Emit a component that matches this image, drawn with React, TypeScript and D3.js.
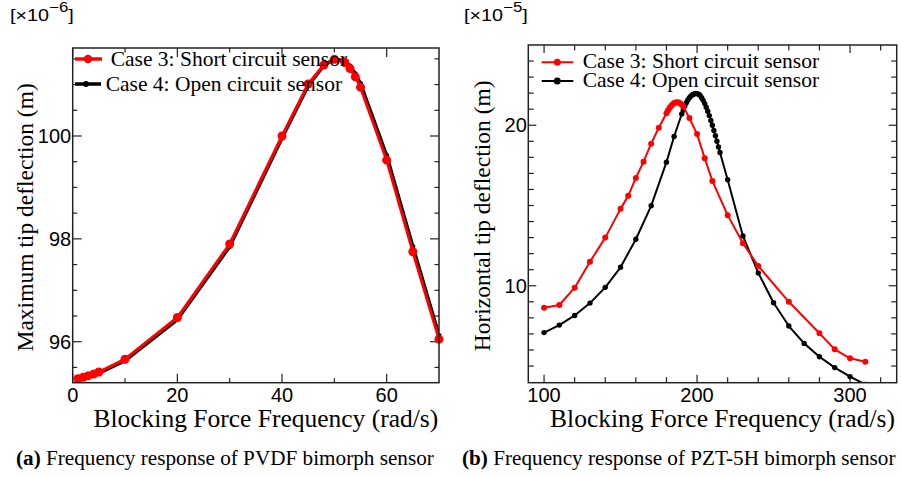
import React from "react";
import * as d3 from "d3";

// ---------- Data ----------
// Panel (a): PVDF bimorph sensor, max tip deflection (x1e-6 m)
const LEFT_FREQ = [1, 2, 3, 4, 5, 10, 20, 30, 40, 45, 48, 50, 52, 53, 54, 55, 60, 65, 70];
const LEFT_CASE3 = [95.28, 95.31, 95.34, 95.37, 95.41, 95.66, 96.47, 97.9, 100.0, 101.01, 101.38, 101.49, 101.43, 101.31, 101.15, 100.95, 99.53, 97.75, 96.05];
const LEFT_CASE4 = [95.26, 95.29, 95.32, 95.35, 95.39, 95.63, 96.43, 97.85, 99.96, 100.98, 101.37, 101.5, 101.46, 101.36, 101.21, 101.02, 99.62, 97.85, 96.12];

// Panel (b): PZT-5H bimorph sensor, horizontal tip deflection (x1e-5 m)
const RIGHT_FREQ3 = [100, 110, 120, 130, 140, 150, 155, 160, 165, 170, 175, 180, 181, 182, 183, 184, 185, 186, 187, 188, 189, 190, 191, 195, 200, 205, 210, 220, 230, 240, 260, 280, 290, 300, 310];
const RIGHT_CASE3 = [8.63, 8.8, 9.88, 11.49, 13.0, 14.79, 15.6, 16.72, 17.72, 18.85, 19.85, 20.75, 20.92, 21.07, 21.2, 21.3, 21.38, 21.42, 21.43, 21.41, 21.36, 21.28, 21.17, 20.45, 19.45, 17.95, 16.53, 14.4, 12.65, 11.23, 9.0, 7.04, 6.04, 5.48, 5.27];
const RIGHT_FREQ4 = [100, 110, 120, 130, 140, 150, 160, 170, 180, 185, 190, 191, 192, 193, 194, 195, 196, 197, 198, 199, 200, 201, 202, 203, 204, 205, 206, 207, 208, 209, 210, 211, 212, 213, 214, 215, 220, 230, 240, 250, 260, 270, 280, 290, 300, 310];
const RIGHT_CASE4 = [7.08, 7.55, 8.15, 8.92, 9.9, 11.15, 12.9, 14.98, 17.7, 19.3, 20.7, 20.95, 21.2, 21.4, 21.58, 21.72, 21.83, 21.9, 21.95, 21.98, 21.97, 21.93, 21.85, 21.72, 21.55, 21.35, 21.12, 20.87, 20.6, 20.3, 20.0, 19.68, 19.35, 19.0, 18.65, 18.3, 16.6, 13.1, 10.8, 8.94, 7.49, 6.41, 5.58, 4.9, 4.34, 3.85];

// Ticks
const LEFT_X_MAJOR = [0, 20, 40, 60];
const LEFT_X_MINOR = [10, 30, 50];
const LEFT_Y_MAJOR = [96, 98, 100];
const LEFT_Y_MINOR = [95.5, 96.5, 97, 97.5, 98.5, 99, 99.5, 100.5, 101, 101.5];
const RIGHT_X_MAJOR = [100, 200, 300];
const RIGHT_X_MINOR = [120, 140, 160, 180, 220, 240, 260, 280, 320];
const RIGHT_Y_MAJOR = [10, 20];
const RIGHT_Y_MINOR = [5, 6, 7, 8, 9, 11, 12, 13, 14, 15, 16, 17, 18, 19, 21, 22, 23, 24];

const LEGEND_LABELS = ["Case 3: Short circuit sensor", "Case 4: Open circuit sensor"];
const X_TITLE = "Blocking Force Frequency (rad/s)";
const LEFT_Y_TITLE = "Maximum tip deflection (m)";
const RIGHT_Y_TITLE = "Horizontal tip deflection (m)";
const LEFT_CAPTION = ["(a)", " Frequency response of PVDF bimorph sensor"];
const RIGHT_CAPTION = ["(b)", " Frequency response of PZT-5H bimorph sensor"];

const SERIF = "'Liberation Serif', 'Times New Roman', serif";
const SANS = "'Liberation Sans', Arial, sans-serif";
const RED = "#ff0000";

type PanelProps = {
  id: string;
  xDomain: [number, number];
  yDomain: [number, number];
  left: number; right: number; top: number; bottom: number;
  xMajor: number[]; xMinor: number[]; yMajor: number[]; yMinor: number[];
  majorLen: number; minorLen: number;
  s3x: number[]; s3y: number[]; s4x: number[]; s4y: number[];
  lineW3: number; lineW4: number; r3: number; r4: number;
  yTitle: string; yTitleX: number;
  exponent: string; expX: number;
  legend: { x1: number; x2: number; y: number; mx: number; tx: number; r: number; w: number }[];
  legendBaseOff: number;
  caption: string[]; captionX: number;
};

function Panel(p: PanelProps) {
  const x = d3.scaleLinear().domain(p.xDomain).range([p.left, p.right]);
  const y = d3.scaleLinear().domain(p.yDomain).range([p.bottom, p.top]);
  const line = (xs: number[], ys: number[]) =>
    d3.line<number>().x((_, i) => x(xs[i])).y((d) => y(d))(ys) || "";
  const cx = (p.left + p.right) / 2;
  const cy = (p.top + p.bottom) / 2;
  return (
    <g>
      <defs>
        <clipPath id={p.id}>
          <rect x={p.left} y={p.top} width={p.right - p.left} height={p.bottom - p.top} />
        </clipPath>
        <clipPath id={p.id + "m"}>
          <rect x={p.left - 8} y={p.top - 8} width={p.right - p.left + 16} height={p.bottom - p.top + 8} />
        </clipPath>
      </defs>
      {/* ticks */}
      {p.xMajor.concat(p.xMinor).map((t, i) => {
        const len = p.xMajor.includes(t) ? p.majorLen : p.minorLen;
        return (
          <g key={"xt" + i} stroke="#222" strokeWidth={1.2}>
            <line x1={x(t)} x2={x(t)} y1={p.bottom} y2={p.bottom - len} />
            <line x1={x(t)} x2={x(t)} y1={p.top} y2={p.top + len} />
          </g>
        );
      })}
      {p.yMajor.concat(p.yMinor).map((t, i) => {
        const len = p.yMajor.includes(t) ? p.majorLen : p.minorLen;
        return (
          <g key={"yt" + i} stroke="#222" strokeWidth={1.2}>
            <line x1={p.left} x2={p.left + len} y1={y(t)} y2={y(t)} />
            <line x1={p.right} x2={p.right - len} y1={y(t)} y2={y(t)} />
          </g>
        );
      })}
      {p.xMajor.map((t) => (
        <text key={"xl" + t} x={x(t)} y={p.bottom + 19} textAnchor="middle" fontFamily={SANS} fontSize={20} fill="#000">
          {t}
        </text>
      ))}
      {p.yMajor.map((t) => (
        <text key={"yl" + t} x={p.left - 1.5} y={y(t) + 7} textAnchor="end" fontFamily={SANS} fontSize={20} fill="#000">
          {t}
        </text>
      ))}
      {/* data */}
      <g clipPath={`url(#${p.id})`}>
        <path d={line(p.s4x, p.s4y)} fill="none" stroke="#000" strokeWidth={p.lineW4} strokeLinejoin="round" />
      </g>
      <g clipPath={`url(#${p.id}m)`}>
        {p.s4y.map((v, i) => (
          <circle key={"c4" + i} cx={x(p.s4x[i])} cy={y(v)} r={p.r4} fill="#000" />
        ))}
      </g>
      <g clipPath={`url(#${p.id})`}>
        <path d={line(p.s3x, p.s3y)} fill="none" stroke={RED} strokeWidth={p.lineW3} strokeLinejoin="round" />
      </g>
      <g clipPath={`url(#${p.id}m)`}>
        {p.s3y.map((v, i) => (
          <circle key={"c3" + i} cx={x(p.s3x[i])} cy={y(v)} r={p.r3} fill={RED} />
        ))}
      </g>
      {/* frame */}
      <rect x={p.left} y={p.top} width={p.right - p.left} height={p.bottom - p.top} fill="none" stroke="#222" strokeWidth={1.5} />
      {/* legend */}
      {p.legend.map((l, i) => (
        <g key={"lg" + i}>
          <line x1={l.x1} x2={l.x2} y1={l.y} y2={l.y} stroke={i === 0 ? RED : "#000"} strokeWidth={l.w} />
          <circle cx={l.mx} cy={l.y} r={l.r} fill={i === 0 ? RED : "#000"} />
          <text x={l.tx} y={l.y + p.legendBaseOff} fontFamily={SERIF} fontSize={21.5} fill="#000">
            {LEGEND_LABELS[i]}
          </text>
        </g>
      ))}
      {/* axis titles */}
      <text x={cx + 10} y={426.5} textAnchor="middle" fontFamily={SERIF} fontSize={25.5} fill="#000">
        {X_TITLE}
      </text>
      <text
        transform={`translate(${p.yTitleX},${cy + 2}) rotate(-90)`}
        textAnchor="middle"
        fontFamily={SERIF}
        fontSize={23.5}
        fill="#000"
      >
        {p.yTitle}
      </text>
      {/* exponent */}
      <text transform={`translate(${p.expX},21) scale(1.2,1)`} fontFamily={SANS} fontSize={16.5} fill="#000">
        [×10
        <tspan fontSize={14} dy={-9}>{"−" + p.exponent}</tspan>
        <tspan dy={9}>]</tspan>
      </text>
      {/* caption */}
      <text x={p.captionX} y={465} fontFamily={SERIF} fontSize={21.2} fill="#000">
        <tspan fontWeight="bold">{p.caption[0]}</tspan>
        <tspan>{p.caption[1]}</tspan>
      </text>
    </g>
  );
}

export default function App() {
  return (
    <svg width={901} height={477} style={{ position: "absolute", left: 0, top: 0, background: "#fff" }}>
      <rect width={901} height={477} fill="#fff" />
      <Panel
        id="clipA"
        xDomain={[0, 70]}
        yDomain={[95.203, 101.711]}
        left={72.7}
        right={439}
        top={48}
        bottom={382.7}
        xMajor={LEFT_X_MAJOR}
        xMinor={LEFT_X_MINOR}
        yMajor={LEFT_Y_MAJOR}
        yMinor={LEFT_Y_MINOR}
        majorLen={9}
        minorLen={4.5}
        s3x={LEFT_FREQ}
        s3y={LEFT_CASE3}
        s4x={LEFT_FREQ}
        s4y={LEFT_CASE4}
        lineW3={3}
        lineW4={3.5}
        r3={4.5}
        r4={2.5}
        yTitle={LEFT_Y_TITLE}
        yTitleX={33}
        exponent="6"
        expX={10}
        legend={[
          { x1: 75, x2: 102, y: 59, mx: 88, tx: 110.7, r: 4.2, w: 3.5 },
          { x1: 75, x2: 101, y: 84, mx: 86, tx: 105.7, r: 3, w: 3.5 },
        ]}
        legendBaseOff={7}
        caption={LEFT_CAPTION}
        captionX={16}
      />
      <Panel
        id="clipB"
        xDomain={[89.7, 330.5]}
        yDomain={[3.96, 25.0]}
        left={528.3}
        right={896.7}
        top={45}
        bottom={382.7}
        xMajor={RIGHT_X_MAJOR}
        xMinor={RIGHT_X_MINOR}
        yMajor={RIGHT_Y_MAJOR}
        yMinor={RIGHT_Y_MINOR}
        majorLen={8}
        minorLen={5.5}
        s3x={RIGHT_FREQ3}
        s3y={RIGHT_CASE3}
        s4x={RIGHT_FREQ4}
        s4y={RIGHT_CASE4}
        lineW3={2}
        lineW4={2}
        r3={3}
        r4={2.7}
        yTitle={RIGHT_Y_TITLE}
        yTitleX={490}
        exponent="5"
        expX={464}
        legend={[
          { x1: 541.7, x2: 573.3, y: 62.3, mx: 557.3, tx: 582.7, r: 3.5, w: 2 },
          { x1: 541.7, x2: 573.3, y: 81, mx: 557.3, tx: 582.7, r: 3.5, w: 2 },
        ]}
        legendBaseOff={6}
        caption={RIGHT_CAPTION}
        captionX={462}
      />
    </svg>
  );
}
